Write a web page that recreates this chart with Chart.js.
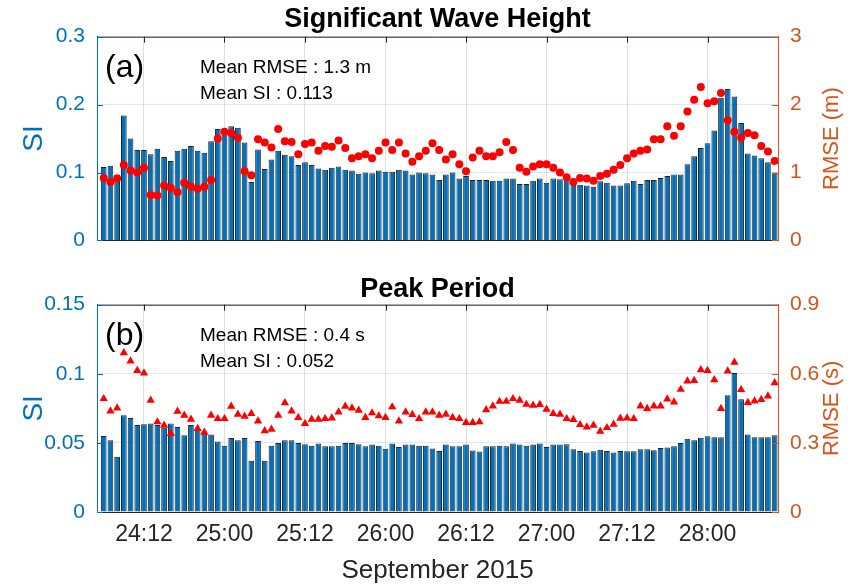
<!DOCTYPE html>
<html>
<head>
<meta charset="utf-8">
<script src="https://cdn.jsdelivr.net/npm/chart.js@4.4.1/dist/chart.umd.min.js"></script>
<style>
  html, body { margin: 0; padding: 0; background: #fff; }
  .panel { position: relative; width: 861px; }
  #top { height: 265px; }
  #bottom { height: 321px; }
</style>
</head>
<body>
<div class="panel" id="top"><canvas id="hsChart"></canvas></div>
<div class="panel" id="bottom"><canvas id="tpChart"></canvas></div>
<script>
// Time axis: hours since 24 Sep 2015 00:00, one bar per hour
const firstHour = 6;
const xTickHours = [12, 24, 36, 48, 60, 72, 84, 96];
const xTickLabels = ['24:12', '25:00', '25:12', '26:00', '26:12', '27:00', '27:12', '28:00'];

// (a) Significant wave height
const hsSI = [
  0.108, 0.110, 0.097, 0.184, 0.150, 0.133, 0.133, 0.127, 0.135, 0.123,
  0.117, 0.132, 0.135, 0.139, 0.132, 0.129, 0.146, 0.164, 0.158, 0.168,
  0.166, 0.144, 0.086, 0.134, 0.105, 0.119, 0.132, 0.126, 0.124, 0.111,
  0.115, 0.111, 0.106, 0.104, 0.107, 0.109, 0.104, 0.103, 0.098, 0.100,
  0.099, 0.103, 0.101, 0.101, 0.104, 0.103, 0.097, 0.100, 0.099, 0.097,
  0.089, 0.097, 0.100, 0.091, 0.095, 0.089, 0.089, 0.089, 0.088, 0.088,
  0.091, 0.091, 0.083, 0.083, 0.088, 0.091, 0.085, 0.091, 0.090, 0.091,
  0.082, 0.082, 0.081, 0.079, 0.087, 0.085, 0.081, 0.081, 0.084, 0.088,
  0.083, 0.089, 0.089, 0.092, 0.095, 0.097, 0.097, 0.112, 0.124, 0.136,
  0.143, 0.162, 0.210, 0.223, 0.212, 0.173, 0.128, 0.125, 0.121, 0.115,
  0.100
];
const hsRMSE = [
  0.92, 0.86, 0.91, 1.11, 1.03, 1.00, 1.07, 0.67, 0.66, 0.81,
  0.77, 0.71, 0.85, 0.79, 0.76, 0.79, 0.89, 1.50, 1.60, 1.58,
  1.51, 1.02, 0.96, 1.49, 1.44, 1.37, 1.64, 1.46, 1.45, 1.27,
  1.42, 1.44, 1.32, 1.39, 1.38, 1.47, 1.36, 1.21, 1.24, 1.27,
  1.21, 1.32, 1.44, 1.33, 1.44, 1.28, 1.16, 1.24, 1.32, 1.43,
  1.33, 1.19, 1.27, 1.12, 1.02, 1.22, 1.32, 1.24, 1.24, 1.30,
  1.45, 1.33, 1.07, 1.01, 1.09, 1.12, 1.12, 1.07, 1.00, 0.93,
  0.86, 0.92, 0.91, 0.88, 0.95, 0.98, 1.04, 1.11, 1.21, 1.28,
  1.32, 1.34, 1.49, 1.49, 1.68, 1.54, 1.68, 1.90, 2.07, 2.26,
  2.02, 2.05, 2.17, 1.77, 1.60, 1.51, 1.58, 1.55, 1.39, 1.31,
  1.17
];
const hsSITicks = [0, 0.1, 0.2, 0.3];
const hsRmseTicks = [0, 1, 2, 3];

// (b) Peak period
const tpSI = [
  0.055, 0.052, 0.040, 0.070, 0.068, 0.063, 0.0635, 0.064, 0.063, 0.061,
  0.064, 0.0615, 0.0555, 0.063, 0.0596, 0.058, 0.056, 0.051, 0.048, 0.0536,
  0.052, 0.0536, 0.037, 0.0514, 0.037, 0.048, 0.050, 0.052, 0.052, 0.050,
  0.049, 0.048, 0.0495, 0.0476, 0.0476, 0.048, 0.050, 0.050, 0.049, 0.0476,
  0.0488, 0.048, 0.0457, 0.0495, 0.047, 0.0488, 0.0488, 0.048, 0.048, 0.046,
  0.0442, 0.0488, 0.0476, 0.0476, 0.0488, 0.0445, 0.0438, 0.0476, 0.0476, 0.048,
  0.0476, 0.0495, 0.0488, 0.048, 0.0488, 0.0495, 0.047, 0.0488, 0.0488, 0.049,
  0.0454, 0.0442, 0.043, 0.044, 0.045, 0.0442, 0.043, 0.0442, 0.044, 0.044,
  0.0454, 0.0454, 0.0447, 0.0464, 0.0466, 0.0476, 0.050, 0.053, 0.052, 0.0538,
  0.0548, 0.054, 0.054, 0.0844, 0.1005, 0.0815, 0.056, 0.054, 0.054, 0.054,
  0.0555
];
const tpRMSE = [
  0.492, 0.438, 0.451, 0.691, 0.655, 0.614, 0.603, 0.485, 0.391, 0.376,
  0.340, 0.437, 0.420, 0.402, 0.362, 0.346, 0.420, 0.405, 0.405, 0.459,
  0.424, 0.415, 0.427, 0.395, 0.352, 0.359, 0.420, 0.474, 0.438, 0.410,
  0.384, 0.402, 0.402, 0.405, 0.408, 0.434, 0.459, 0.451, 0.441, 0.410,
  0.430, 0.417, 0.410, 0.456, 0.395, 0.434, 0.423, 0.405, 0.434, 0.434,
  0.420, 0.424, 0.410, 0.405, 0.388, 0.388, 0.391, 0.444, 0.460, 0.480,
  0.480, 0.492, 0.485, 0.467, 0.463, 0.466, 0.446, 0.427, 0.424, 0.405,
  0.401, 0.379, 0.369, 0.376, 0.350, 0.366, 0.381, 0.407, 0.408, 0.405,
  0.460, 0.449, 0.460, 0.460, 0.490, 0.477, 0.532, 0.568, 0.571, 0.617,
  0.614, 0.574, 0.449, 0.612, 0.650, 0.531, 0.475, 0.482, 0.488, 0.503,
  0.561
];
const tpSITicks = [0, 0.05, 0.1, 0.15];
const tpRmseTicks = [0, 0.3, 0.6, 0.9];

const hours = hsSI.map((_, i) => firstHour + i);

const FONT = '"Liberation Sans", Arial, sans-serif';
const BLUE = '#0072BD';
const ORANGE = '#D95319';
const DARK = '#262626';
Chart.defaults.font.family = FONT;
Chart.defaults.color = DARK;

// Box outline, inward tick marks and the in-plot annotations
const boxDecor = {
  id: 'boxDecor',
  afterDraw(chart, args, opts) {
    const { ctx, chartArea: a, scales } = chart;
    ctx.save();
    ctx.lineWidth = 1;
    ctx.strokeStyle = DARK;
    ctx.beginPath();
    ctx.moveTo(a.left, a.top + 0.5);
    ctx.lineTo(a.right, a.top + 0.5);
    ctx.stroke();
    scales.x.ticks.forEach(t => {
      const px = Math.round(scales.x.getPixelForValue(t.value)) + 0.5;
      ctx.beginPath();
      ctx.moveTo(px, a.top);
      ctx.lineTo(px, a.top + 6);
      ctx.stroke();
    });
    ctx.strokeStyle = BLUE;
    scales.y.ticks.forEach(t => {
      const py = Math.round(scales.y.getPixelForValue(t.value)) + 0.5;
      ctx.beginPath();
      ctx.moveTo(a.left, py);
      ctx.lineTo(a.left + 6, py);
      ctx.stroke();
    });
    ctx.strokeStyle = ORANGE;
    scales.y1.ticks.forEach(t => {
      const py = Math.round(scales.y1.getPixelForValue(t.value)) + 0.5;
      ctx.beginPath();
      ctx.moveTo(a.right - 6, py);
      ctx.lineTo(a.right, py);
      ctx.stroke();
    });

    ctx.fillStyle = '#000';
    ctx.textAlign = 'left';
    ctx.textBaseline = 'middle';
    ctx.font = '32px ' + FONT;
    ctx.fillText(opts.tag, a.left + 8, a.top + 31);
    ctx.font = '19px ' + FONT;
    opts.lines.forEach((s, i) => ctx.fillText(s, a.left + 103, a.top + 31 + i * 26));

    ctx.fillStyle = ORANGE;
    ctx.textAlign = 'center';
    ctx.font = '22px ' + FONT;
    ctx.translate(832, (a.top + a.bottom) / 2);
    ctx.rotate(-Math.PI / 2);
    ctx.fillText(opts.rightTitle, 0, 0);
    ctx.restore();
  }
};

function makePanel(id, p) {
  return new Chart(document.getElementById(id), {
    type: 'bar',
    data: {
      datasets: [
        {
          type: 'line',
          data: hours.map((h, i) => ({ x: h, y: p.rmse[i] })),
          yAxisID: 'y1',
          showLine: false,
          pointStyle: p.marker,
          pointRadius: p.radius,
          pointBackgroundColor: '#FF0000',
          pointBorderColor: '#FF0000',
          pointBorderWidth: 0,
          order: 0
        },
        {
          type: 'bar',
          data: hours.map((h, i) => ({ x: h, y: p.si[i] })),
          yAxisID: 'y',
          backgroundColor: BLUE,
          borderColor: '#222222',
          borderWidth: 1,
          barPercentage: 0.85,
          categoryPercentage: 1,
          order: 1
        }
      ]
    },
    options: {
      responsive: true,
      maintainAspectRatio: false,
      animation: false,
      layout: { padding: { left: 0, right: 0, top: 0, bottom: p.padBottom } },
      plugins: {
        legend: { display: false },
        tooltip: { enabled: false },
        title: {
          display: true,
          fullSize: false,
          text: p.title,
          color: '#000',
          font: { size: 27, weight: 'bold', lineHeight: 1.1 },
          padding: p.titlePad
        },
        boxDecor: { tag: p.tag, lines: p.lines, rightTitle: p.rightTitle }
      },
      scales: {
        x: {
          type: 'linear',
          min: 5,
          max: 106.5,
          offset: false,
          afterBuildTicks: s => { s.ticks = xTickHours.map(v => ({ value: v })); },
          afterFit: s => { s.height = p.xHeight; },
          grid: { color: 'rgba(38,38,38,0.15)', drawTicks: false, offset: false },
          border: { color: DARK },
          ticks: {
            display: p.showX,
            color: DARK,
            font: { size: 23 },
            padding: 9,
            maxRotation: 0,
            autoSkip: false,
            callback: v => xTickLabels[xTickHours.indexOf(v)]
          },
          title: {
            display: p.showX,
            text: 'September 2015',
            color: DARK,
            font: { size: 26 },
            padding: { top: 0, bottom: 0 }
          }
        },
        y: {
          position: 'left',
          min: p.siTicks[0],
          max: p.siTicks[p.siTicks.length - 1],
          afterBuildTicks: s => { s.ticks = p.siTicks.map(v => ({ value: v })); },
          afterFit: s => { s.width = 97; },
          grid: { color: 'rgba(0,114,189,0.15)', drawTicks: false },
          border: { color: BLUE },
          ticks: { color: BLUE, font: { size: 21 }, padding: 12, callback: v => String(v) },
          title: { display: true, text: 'SI', color: BLUE, font: { size: 28 }, padding: { top: 17 } }
        },
        y1: {
          position: 'right',
          min: p.rmseTicks[0],
          max: p.rmseTicks[p.rmseTicks.length - 1],
          afterBuildTicks: s => { s.ticks = p.rmseTicks.map(v => ({ value: v })); },
          afterFit: s => { s.width = 83; },
          grid: { drawOnChartArea: false, drawTicks: false },
          border: { color: ORANGE },
          ticks: { color: ORANGE, font: { size: 21 }, padding: 12, callback: v => String(v) }
        }
      }
    },
    plugins: [boxDecor]
  });
}

makePanel('hsChart', {
  title: 'Significant Wave Height',
  titlePad: { top: 5, bottom: 2 },
  si: hsSI, rmse: hsRMSE,
  siTicks: hsSITicks, rmseTicks: hsRmseTicks,
  marker: 'circle', radius: 4,
  tag: '(a)',
  lines: ['Mean RMSE : 1.3 m', 'Mean SI : 0.113'],
  rightTitle: 'RMSE (m)',
  showX: false, xHeight: 0, padBottom: 22
});

makePanel('tpChart', {
  title: 'Peak Period',
  titlePad: { top: 10, bottom: 0 },
  si: tpSI, rmse: tpRMSE,
  siTicks: tpSITicks, rmseTicks: tpRmseTicks,
  marker: 'triangle', radius: 4.8,
  tag: '(b)',
  lines: ['Mean RMSE : 0.4 s', 'Mean SI : 0.052'],
  rightTitle: 'RMSE (s)',
  showX: true, xHeight: 74, padBottom: 0
});
</script>
</body>
</html>
